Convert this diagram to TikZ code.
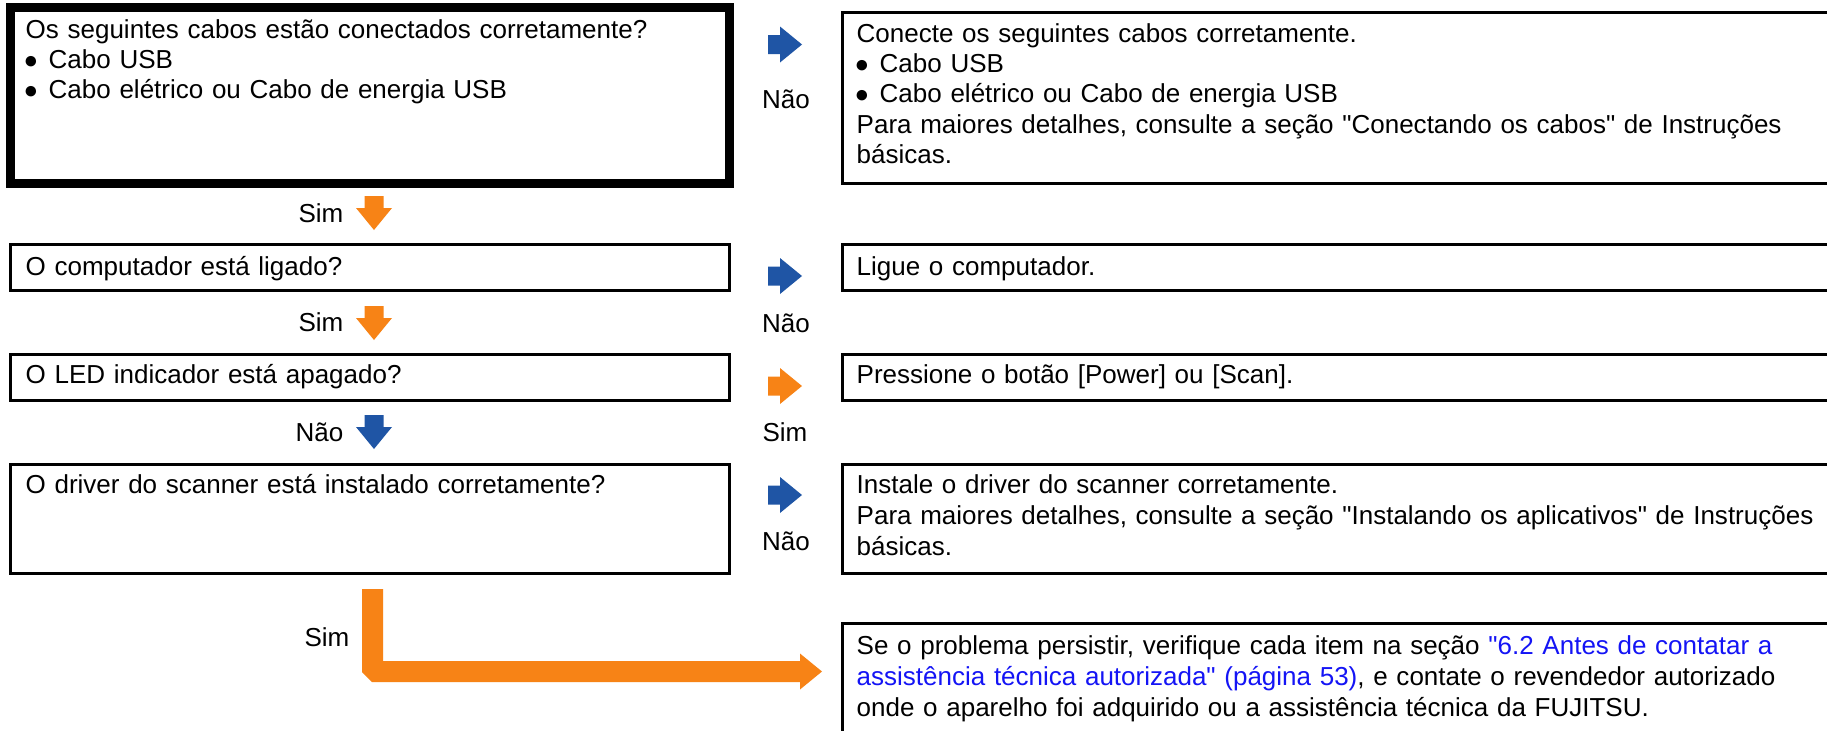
\documentclass[tikz,border=0pt]{standalone}
\usepackage{fontspec}
\setmainfont{Liberation Sans}[Ligatures=TeXOff]
\definecolor{fblue}{RGB}{31,85,165}
\definecolor{forange}{RGB}{247,131,22}
\definecolor{flink}{RGB}{20,20,245}
\newcommand{\bul}{\makebox[0.23cm][l]{\hspace{-0.02cm}\fontsize{6.9pt}{6.9pt}\selectfont ●}}

\begin{document}
\begin{tikzpicture}[
qbox/.style={draw, line width=0.03cm, inner sep=0pt, outer sep=0pt, anchor=north west, minimum width=7.19cm},
rbox/.style={draw, line width=0.03cm, inner sep=0pt, outer sep=0pt, anchor=north west, minimum width=11cm},
txt/.style={inner sep=0pt, anchor=base west, align=left, text width=9.9cm, font=\fontsize{7.4pt}{8.96pt}\selectfont},
lbl/.style={inner sep=0pt, font=\fontsize{7.4pt}{8.96pt}\selectfont},
rarr/.pic={\fill[#1] (0,0.095) -- (0.12,0.095) -- (0.12,0.18) -- (0.34,0) -- (0.12,-0.18) -- (0.12,-0.095) -- (0,-0.095) -- cycle;}
]
    \useasboundingbox (0,0) rectangle (18.27,-7.30);
    \fill[white] (0,0) rectangle (18.27,-7.30);
    \clip (0,0) rectangle (18.27,-7.30);

    % question boxes
    \node [qbox, line width=0.09cm, minimum height=1.76cm] (q1) at (0.105,-0.075) {};
    \node [qbox, minimum height=0.46cm] (q2) at (0.105,-2.445) {};
    \node [qbox, minimum height=0.46cm] (q3) at (0.105,-3.545) {};
    \node [qbox, minimum height=1.09cm] (q4) at (0.105,-4.645) {};

    \node [txt, font=\fontsize{7.4pt}{8.65pt}\selectfont] (q1t) at (0.25,-0.38) {Os seguintes cabos estão conectados corretamente?\\\bul Cabo USB\\\bul Cabo elétrico ou Cabo de energia USB};
    \node [txt] (q2t) at (0.25,-2.75) {O computador está ligado?};
    \node [txt] (q3t) at (0.25,-3.83) {O LED indicador está apagado?};
    \node [txt] (q4t) at (0.25,-4.93) {O driver do scanner está instalado corretamente?};

    % answer boxes
    \node [rbox, minimum height=1.705cm] (r1) at (8.425,-0.125) {};
    \node [rbox, minimum height=0.46cm] (r2) at (8.425,-2.445) {};
    \node [rbox, minimum height=0.46cm] (r3) at (8.425,-3.545) {};
    \node [rbox, minimum height=1.09cm] (r4) at (8.425,-4.645) {};
    \node [rbox, minimum height=2cm] (r5) at (8.425,-6.235) {};

    \node [txt, font=\fontsize{7.4pt}{8.65pt}\selectfont] (r1t) at (8.56,-0.42) {Conecte os seguintes cabos corretamente.\\\bul Cabo USB\\\bul Cabo elétrico ou Cabo de energia USB\\Para maiores detalhes, consulte a seção "Conectando os cabos" de Instruções\\básicas.};
    \node [txt] (r2t) at (8.56,-2.75) {Ligue o computador.};
    \node [txt] (r3t) at (8.56,-3.83) {Pressione o botão [Power] ou [Scan].};
    \node [txt] (r4t) at (8.56,-4.93) {Instale o driver do scanner corretamente.\\Para maiores detalhes, consulte a seção "Instalando os aplicativos" de Instruções\\básicas.};
    \node [txt] (r5t) at (8.56,-6.54) {Se o problema persistir, verifique cada item na seção \textcolor{flink}{"6.2 Antes de contatar a}\\\textcolor{flink}{assistência técnica autorizada" (página 53)}, e contate o revendedor autorizado\\onde o aparelho foi adquirido ou a assistência técnica da FUJITSU.};

    % down arrows
    \node [lbl, anchor=base east] (s1) at (3.44,-2.22) {Sim};
    \node [lbl, anchor=base east] (s2) at (3.44,-3.31) {Sim};
    \node [lbl, anchor=base east] (n3) at (3.44,-4.41) {Não};
    \pic [rotate=-90] at (3.74,-1.96) {rarr=forange};
    \pic [rotate=-90] at (3.74,-3.06) {rarr=forange};
    \pic [rotate=-90] at (3.74,-4.15) {rarr=fblue};

    % right arrows
    \pic at (7.68,-0.445) {rarr=fblue};
    \pic at (7.68,-2.76) {rarr=fblue};
    \pic at (7.68,-3.86) {rarr=forange};
    \pic at (7.68,-4.95) {rarr=fblue};
    \node [lbl, anchor=base] (n1) at (7.86,-1.08) {Não};
    \node [lbl, anchor=base] (n2) at (7.86,-3.32) {Não};
    \node [lbl, anchor=base] (s3) at (7.85,-4.41) {Sim};
    \node [lbl, anchor=base] (n4) at (7.86,-5.50) {Não};

    % last step
    \node [lbl, anchor=base east] (s4) at (3.50,-6.46) {Sim};
    \fill[forange] (3.62,-5.89) -- (3.83,-5.89) -- (3.83,-6.61) -- (8.00,-6.61) -- (8.00,-6.535)
        -- (8.22,-6.715) -- (8.00,-6.895) -- (8.00,-6.82) -- (3.72,-6.82) -- (3.62,-6.72) -- cycle;

\end{tikzpicture}
\end{document}
